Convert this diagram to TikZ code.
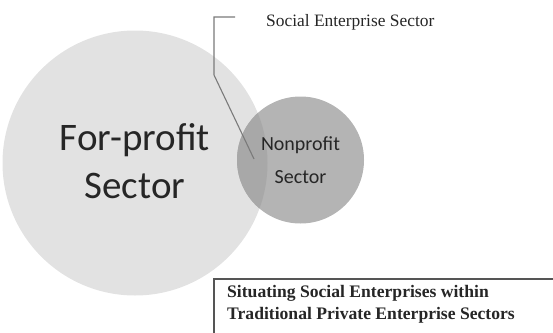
\documentclass[tikz,border=0pt]{standalone}
\usepackage{fontspec}
\setmainfont{Liberation Serif}
\newfontfamily\calib{Carlito}
\definecolor{bigc}{HTML}{E2E2E2}
\definecolor{smallc}{HTML}{B4B4B4}
\definecolor{overc}{HTML}{A8A8A8}
\definecolor{linec}{HTML}{7A7A7A}
\definecolor{boxc}{HTML}{555555}
\begin{document}
\begin{tikzpicture}[x=1pt,y=-1pt,
  lbl/.style={inner sep=0pt, text=black!85}]
\useasboundingbox (0,0) rectangle (553,332);
% circles
\fill[bigc] (135,163) circle (132.5);
\fill[smallc] (300.5,160) circle (63.5);
\begin{scope}
  \clip (300.5,160) circle (63.5);
  \fill[overc] (135,163) circle (132.5);
\end{scope}
\node[lbl, align=center, font=\calib\fontsize{39}{48}\selectfont] (fp) at (135,161) {For-profit\\Sector};
\node[lbl, align=center, font=\calib\fontsize{20}{33}\selectfont] (np) at (300.5,160) {Nonprofit\\Sector};
% callout
\node[lbl, anchor=west, font=\fontsize{17.4}{19}\selectfont] (se) at (266,22.5) {Social Enterprise Sector};
\coordinate (c1) at (235,17);
\coordinate (c2) at (214,17);
\coordinate (c3) at (214,75);
\coordinate (c4) at (254,159);
\draw[linec, line width=1.1pt] (c1) -- (c2) -- (c3) -- (c4);
% box
\coordinate (b1) at (553,279);
\coordinate (b2) at (214,279);
\coordinate (b3) at (214,335);
\draw[boxc, line width=1.3pt] (b1) -- (b2) -- (b3);
\node[lbl, anchor=north west, align=left, font=\bfseries\fontsize{17.6}{22}\selectfont] (cap) at (227,285.5) {Situating Social Enterprises within\\Traditional Private Enterprise Sectors};
\end{tikzpicture}
\end{document}
